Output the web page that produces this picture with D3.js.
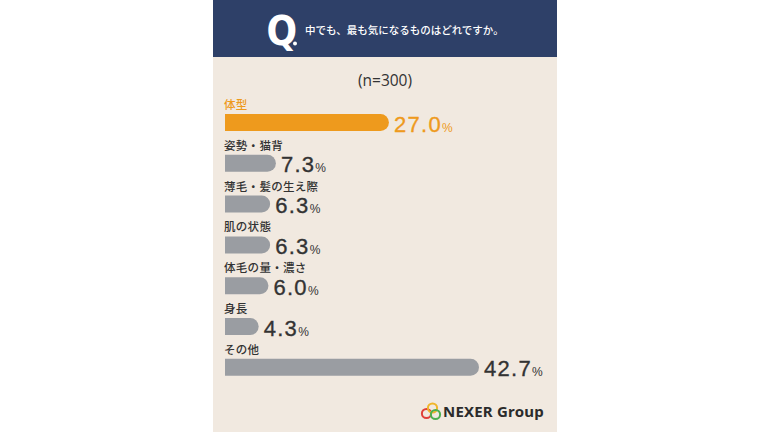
<!DOCTYPE html>
<html><head><meta charset="utf-8">
<script src="https://cdn.jsdelivr.net/npm/d3@7"></script>
<style>body{margin:0;background:#fff;}svg{display:block;}</style>
</head><body>
<svg id="c" width="770" height="433"></svg>
<script>
const categories = ["体型","姿勢・猫背","薄毛・髪の生え際","肌の状態","体毛の量・濃さ","身長","その他"];
const values = [27.0, 7.3, 6.3, 6.3, 6.0, 4.3, 42.7];
const highlight = ["体型"];
const question = "中でも、最も気になるものはどれですか。";
const sampleNote = "(n=300)";

const svg = d3.select("#c");
const font = "'Noto Sans CJK JP','Noto Sans',sans-serif";
const numFont = "'Liberation Sans','Open Sans',sans-serif";
const panelX = 213, panelW = 344;

svg.append("rect").attr("x",panelX).attr("y",0).attr("width",panelW).attr("height",432).attr("fill","#f1e9e0");
svg.append("rect").attr("x",panelX).attr("y",0).attr("width",panelW).attr("height",57).attr("fill","#2e4068");

svg.append("text").attr("x",266.5).attr("y",45).attr("fill","#fff")
  .attr("font-family","'DejaVu Sans Condensed','DejaVu Sans',sans-serif").attr("font-weight","bold")
  .attr("font-size",40).text("Q");
svg.append("circle").attr("cx",295).attr("cy",43.5).attr("r",2).attr("fill","#fff");
svg.append("text").attr("x",305).attr("y",34).attr("fill","#fff")
  .attr("font-family",font).attr("font-size",10.5).attr("font-weight",500).text(question);

svg.append("text").attr("x",385).attr("y",86).attr("text-anchor","middle").attr("fill","#333")
  .attr("font-family","'Open Sans',sans-serif").attr("font-size",15.5).text(sampleNote);

const y = d3.scalePoint().domain(categories).range([122.5, 367.3]);
const x = d3.scaleLinear().domain([0, 42.7]).range([234, 479]);
const x0 = 225, h = 17, r = h/2;
const orange = "#ee9a1d", grey = "#9a9da2";

const rows = svg.append("g").selectAll("g").data(categories.map((c,i)=>({c, v: values[i]}))).join("g");

rows.append("text").attr("x",x0-1).attr("y",d=>y(d.c)-h/2-5)
  .attr("font-family",font).attr("font-size",11.5).attr("font-weight",500).attr("letter-spacing",0.3)
  .attr("fill",d=>highlight.includes(d.c)?orange:"#333").text(d=>d.c);

rows.append("path").attr("fill",d=>highlight.includes(d.c)?orange:grey)
  .attr("d",d=>{
    const x1 = x(d.v), t = y(d.c)-h/2;
    return `M${x0},${t}H${x1-r}A${r},${r} 0 0 1 ${x1-r},${t+h}H${x0}Z`;
  });

const vt = rows.append("text").attr("x",d=>x(d.v)+5).attr("y",d=>y(d.c)+h/2+0.5)
  .attr("font-family",numFont)
  .attr("fill",d=>highlight.includes(d.c)?orange:"#333")
  .attr("stroke",d=>highlight.includes(d.c)?orange:"#333").attr("stroke-width",0.35);
vt.append("tspan").attr("font-size",22).attr("letter-spacing",1.3).text(d=>d.v.toFixed(1));
vt.append("tspan").attr("font-size",12).attr("dx",0).attr("stroke-width",0).text("%");

// logo
const lg = svg.append("g");
lg.append("circle").attr("cx",426.5).attr("cy",413.5).attr("r",4.6).attr("fill","none").attr("stroke","#e0403a").attr("stroke-width",2);
lg.append("circle").attr("cx",432.5).attr("cy",408).attr("r",4.6).attr("fill","none").attr("stroke","#f0b52a").attr("stroke-width",2);
lg.append("circle").attr("cx",435.5).attr("cy",414.5).attr("r",4.6).attr("fill","none").attr("stroke","#4caf50").attr("stroke-width",2);
svg.append("text").attr("x",443).attr("y",417).attr("font-family","'Noto Sans',sans-serif").attr("font-weight","bold")
  .attr("font-size",15).attr("letter-spacing",0.2).attr("fill","#2b2b2b").text("NEXER Group");
</script>
</body></html>
